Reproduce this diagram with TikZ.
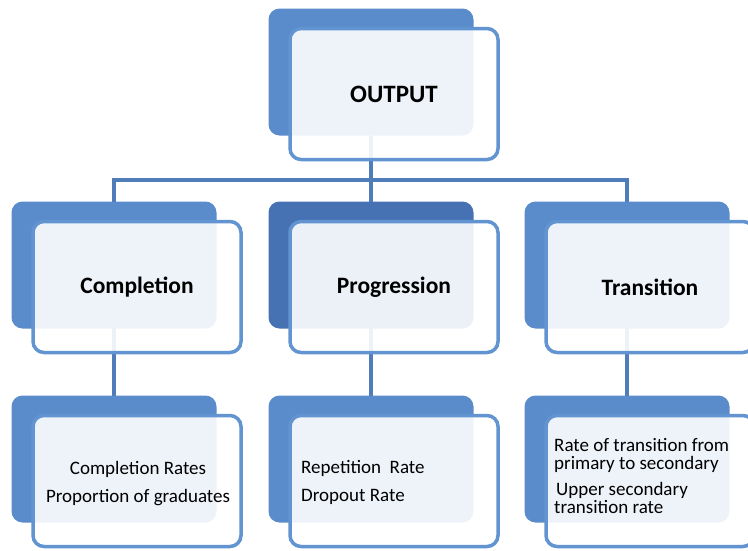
\documentclass[tikz,border=0pt]{standalone}
\usepackage{fontspec}
\setmainfont{Carlito}
\usetikzlibrary{backgrounds}

\definecolor{cardblue}{HTML}{5A8CCB}
\definecolor{carddark}{HTML}{4672B4}
\definecolor{cardedge}{HTML}{6194D0}
\definecolor{linkblue}{HTML}{4F7DBA}

\tikzset{%
  card back/.style={fill=cardblue, rounded corners=11pt, inner sep=0pt,
    minimum width=205pt, minimum height=127pt}, % solid card behind
  card front/.style={draw=cardedge, line width=3.5pt, fill=white,
    fill opacity=0.9, text opacity=1, rounded corners=11pt, inner sep=0pt,
    minimum width=208pt, minimum height=131pt}, % light card in front
  head text/.style={font=\bfseries\fontsize{23.5}{28}\selectfont},
  leaf text/.style={inner sep=0pt, font=\fontsize{19}{28}\selectfont},
  link/.style={draw=linkblue, line width=3.5pt}%
}

\begin{document}
\begin{tikzpicture}[x=1pt,y=-1pt]
\useasboundingbox (0,0) rectangle (748,550);

%% some definitions

\def\dx{23} % shift of the front card
\def\dy{22}
\coordinate (bar) at (0,180); % height of the branching line

%% top card

\node[card back] (outB) at (371,72) {};
\node[card front,head text,font=\bfseries\fontsize{25}{28}\selectfont]
  (out) at ([shift={(\dx,\dy)}]outB.center) {OUTPUT};

%% middle cards

\node[card back] (compB) at (114,265) {};
\node[card front,head text] (comp) at ([shift={(\dx,\dy)}]compB.center) {Completion};
\node[card back,fill=carddark] (progB) at (371,265) {};
\node[card front,head text] (prog) at ([shift={(\dx,\dy)}]progB.center) {Progression};
\node[card back] (tranB) at (627,265) {};
\node[card front,head text] (tran) at ([shift={(\dx,\dy)}]tranB.center) {Transition};

%% bottom cards

\node[card back] (compLeafB) at (114,459) {};
\node[card front] (compLeaf) at ([shift={(\dx,\dy)}]compLeafB.center) {};
\node[card back] (progLeafB) at (371,459) {};
\node[card front] (progLeaf) at ([shift={(\dx,\dy)}]progLeafB.center) {};
\node[card back] (tranLeafB) at (627,459) {};
\node[card front] (tranLeaf) at ([shift={(\dx,\dy)}]tranLeafB.center) {};

%% texts of the bottom cards

\node[leaf text,align=center] (compText) at (138,484)
  {Completion Rates\\Proportion of graduates};
\node[leaf text,align=left,anchor=west] (progText) at (301,482)
  {Repetition\ \ Rate\\Dropout Rate};
\node[leaf text,align=left,anchor=west,font=\fontsize{19}{18}\selectfont]
  (tranText) at (554,476)
  {Rate of transition from\\primary to secondary\\[8pt]
   \hspace{2pt}Upper secondary\\transition rate};

%% connectors, behind the cards

\begin{scope}[on background layer]
\draw[link] (outB.center) -- (progB.center);
\draw[link] (compB.center) -- (compB.center |- bar) -- (tranB.center |- bar)
  -- (tranB.center);
\draw[link] (compB.center) -- (compLeafB.center);
\draw[link] (progB.center) -- (progLeafB.center);
\draw[link] (tranB.center) -- (tranLeafB.center);
\end{scope}
\end{tikzpicture}
\end{document}
